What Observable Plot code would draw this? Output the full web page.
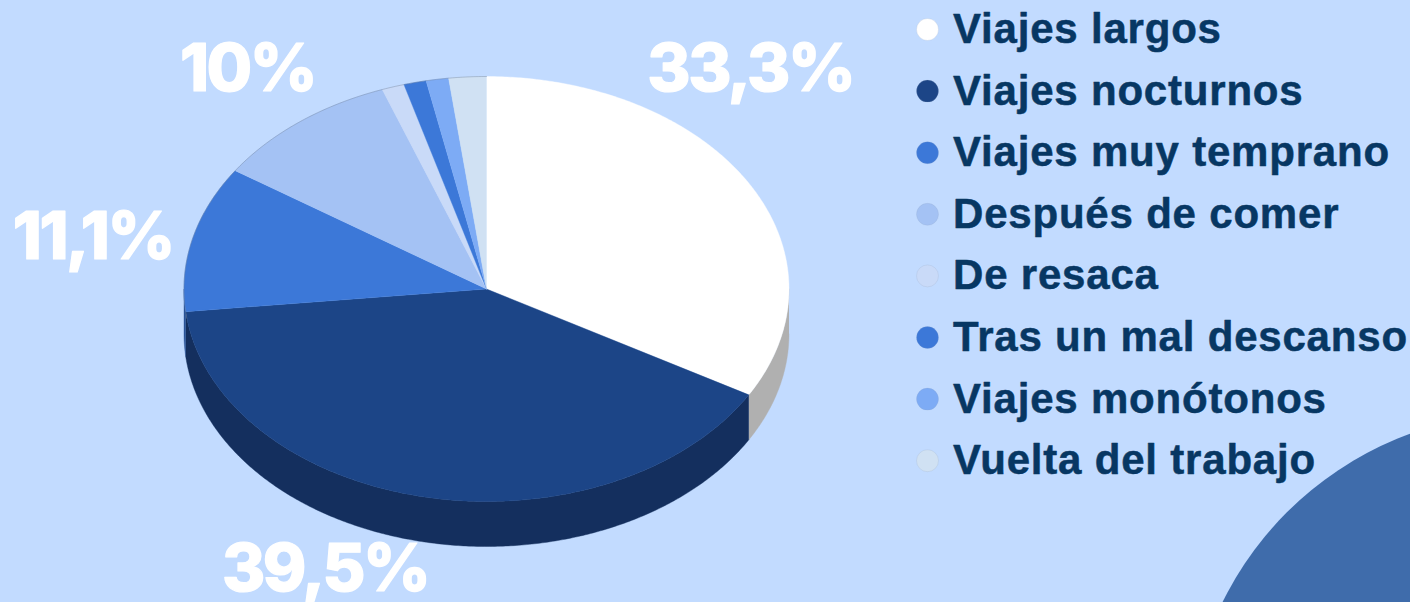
<!DOCTYPE html>
<html lang="es">
<head>
<meta charset="utf-8">
<script src="https://cdn.jsdelivr.net/npm/d3@7"></script>
<script src="https://cdn.jsdelivr.net/npm/@observablehq/plot@0.6"></script>
<style>
html,body{margin:0;padding:0;background:#c2dbff;overflow:hidden}
svg{display:block}
.leg text{letter-spacing:.8px}
.pct text{letter-spacing:-2.5px}
</style>
</head>
<body>
<div id="chart"></div>
<script>
const categories = ["Viajes largos","Viajes nocturnos","Viajes muy temprano","Después de comer","De resaca","Tras un mal descanso","Viajes monótonos","Vuelta del trabajo"];
// Shares as drawn in the picture (percent of the full turn)
const shares = [33.3, 40, 11.1, 10, 1.2, 1.2, 1.2, 2.0];
const topColors = ["#ffffff","#1c4587","#3c78d8","#a4c2f4","#c9daf8","#3c78d8","#7dabf5","#d0e1f3"];
const sideColors = ["#b0b0b0","#142f5e","#2a5497","#7288ab","#8c98ad","#2a5497","#5778ab","#919da9"];
const percentLabels = ["33,3%","39,5%","11,1%","10%"];

// Layout
const W = 1410, H = 602, cx = 486, cy = 288.5, rx = 302.5, ry = 212.5, depth = 45;
const labelOffsets = [[2,-113],[-99,73],[-100,0],[-52,-52]];
const rad = d => d * Math.PI / 180;
const px = a => cx + rx * Math.sin(rad(a));
const py = a => cy - ry * Math.cos(rad(a));
const range = (a0, a1) => { const n = Math.max(2, Math.ceil((a1 - a0) / 0.5)); return d3.range(n + 1).map(i => a0 + (a1 - a0) * i / n); };

let cum = 0;
const slices = categories.map((name, i) => { const a0 = cum * 3.6; cum += shares[i]; return {name, i, a0, a1: cum * 3.6}; });

const sidePts = [], topPts = [];
for (const s of slices) {
  const a0 = Math.max(s.a0, 90), a1 = Math.min(s.a1, 270);
  if (a1 > a0) {
    const arc = range(a0, a1);
    for (const a of arc) sidePts.push({k: s.i, x: px(a), y: py(a), fill: sideColors[s.i]});
    for (const a of arc.slice().reverse()) sidePts.push({k: s.i, x: px(a), y: py(a) + depth, fill: sideColors[s.i]});
  }
  topPts.push({k: s.i, x: cx, y: cy, fill: topColors[s.i]});
  for (const a of range(s.a0, s.a1)) topPts.push({k: s.i, x: px(a), y: py(a), fill: topColors[s.i]});
}
const rim = range(262, 360).map(a => ({x: px(a), y: py(a)}));
const legendRows = categories.map((name, i) => ({name, color: topColors[i], x: 927, tx: 952.5, y: 29 + i * 61.6}));
const labelRows = percentLabels.map((label, i) => {
  const m = (slices[i].a0 + slices[i].a1) / 2;
  return {label, x: px(m) + labelOffsets[i][0], y: py(m) + labelOffsets[i][1]};
});

const chart = Plot.plot({
  width: W, height: H, margin: 0,
  x: {domain: [0, W], range: [0, W], axis: null},
  y: {domain: [0, H], range: [0, H], axis: null},
  color: {type: "identity"},
  style: {background: "#c2dbff", overflow: "hidden"},
  marks: [
    Plot.dot([{x: 1526.5, y: 752}], {x: "x", y: "y", r: 339.6, fill: "#3f6cab", stroke: "none"}),
    Plot.line(sidePts, {x: "x", y: "y", z: "k", fill: "fill", stroke: "fill", strokeWidth: 0.4, curve: "linear"}),
    Plot.line(topPts, {x: "x", y: "y", z: "k", fill: "fill", stroke: "fill", strokeWidth: 0.4, curve: "linear"}),
    Plot.line(rim, {x: "x", y: "y", stroke: "#6f7f99", strokeOpacity: 0.4, strokeWidth: 1}),
    Plot.dot(legendRows, {x: "x", y: "y", r: 11, fill: "color", stroke: "#8fa3c4", strokeOpacity: 0.5, strokeWidth: 0.4}),
    Plot.text(legendRows, {x: "tx", y: "y", text: "name", textAnchor: "start", fill: "#073763", stroke: "#073763", strokeWidth: 0.5, fontFamily: "Liberation Sans", fontWeight: 700, fontSize: 42, className: "leg"}),
    Plot.text(labelRows, {x: "x", y: "y", text: "label", fill: "#ffffff", stroke: "#ffffff", strokeWidth: 1.2, fontFamily: "Inter", fontWeight: 800, fontSize: 66, className: "pct"})
  ]
});
document.getElementById("chart").append(chart);
</script>
</body>
</html>
